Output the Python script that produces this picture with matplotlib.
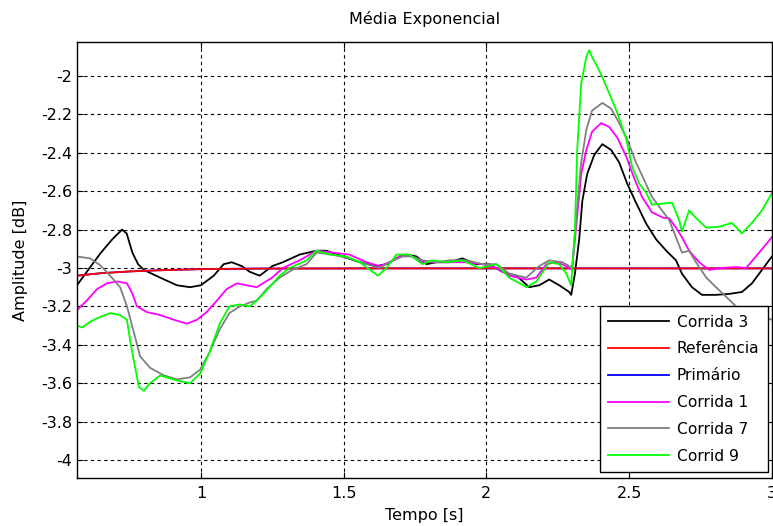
import numpy as np
import matplotlib
matplotlib.use("Agg")
import matplotlib.pyplot as plt

plt.rcParams['font.family'] = ['DejaVu Sans']

# Corrida 3 (black)
c3_t = [0.566, 0.61, 0.65, 0.69, 0.724, 0.74, 0.76, 0.78, 0.80, 0.857, 0.916, 0.962, 1.0, 1.045,
        1.08, 1.108, 1.143, 1.171, 1.206, 1.25, 1.287, 1.346, 1.405, 1.44, 1.497, 1.556, 1.615,
        1.65, 1.685, 1.72, 1.755, 1.79, 1.825, 1.87, 1.916, 1.965, 2.01, 2.056, 2.105, 2.15,
        2.185, 2.22, 2.255, 2.29, 2.297, 2.31, 2.325, 2.336, 2.353, 2.378, 2.406, 2.437, 2.465,
        2.493, 2.524, 2.56, 2.594, 2.63, 2.664, 2.685, 2.72, 2.755, 2.804, 2.85, 2.895, 2.93,
        2.965, 3.0]
c3_a = [-3.09, -3.0, -2.92, -2.85, -2.80, -2.82, -2.92, -2.98, -3.01, -3.05, -3.09, -3.10, -3.09, -3.04,
        -2.98, -2.97, -2.99, -3.02, -3.04, -2.99, -2.97, -2.93, -2.91, -2.91, -2.94, -2.97, -2.99,
        -2.98, -2.95, -2.93, -2.94, -2.98, -2.97, -2.97, -2.95, -2.98, -2.98, -3.02, -3.04, -3.10,
        -3.09, -3.06, -3.09, -3.125, -3.14, -3.03, -2.85, -2.65, -2.51, -2.41, -2.355, -2.385, -2.45,
        -2.56, -2.66, -2.77, -2.85, -2.91, -2.96, -3.03, -3.10, -3.14, -3.14, -3.135, -3.125, -3.08,
        -3.01, -2.94]

# Referência (red) and Primário (blue, hidden under the reference)
ref_t = [0.566, 0.65, 0.75, 0.85, 1.0, 1.2, 1.6, 2.0, 2.5, 3.0]
ref_a = [-3.04, -3.027, -3.018, -3.012, -3.006, -3.003, -3.002, -3.002, -3.002, -3.002]
pri_t = ref_t
pri_a = ref_a

# Corrida 1 (magenta)
c1_t = [0.566, 0.60, 0.636, 0.671, 0.706, 0.741, 0.759, 0.776, 0.811, 0.857, 0.906, 0.951, 0.986,
        1.02, 1.056, 1.09, 1.126, 1.16, 1.196, 1.217, 1.25, 1.287, 1.346, 1.405, 1.46, 1.52, 1.58,
        1.626, 1.66, 1.706, 1.74, 1.776, 1.825, 1.87, 1.93, 1.986, 2.035, 2.08, 2.14, 2.175, 2.21,
        2.245, 2.28, 2.30, 2.318, 2.332, 2.35, 2.37, 2.402, 2.43, 2.458, 2.49, 2.517, 2.545, 2.58,
        2.622, 2.64, 2.664, 2.685, 2.71, 2.745, 2.78, 2.825, 2.874, 2.91, 2.955, 3.0]
c1_a = [-3.22, -3.17, -3.11, -3.08, -3.07, -3.08, -3.13, -3.20, -3.23, -3.245, -3.27, -3.29, -3.27,
        -3.23, -3.17, -3.11, -3.08, -3.09, -3.10, -3.08, -3.05, -3.0, -2.96, -2.91, -2.92, -2.93, -2.97,
        -2.99, -2.97, -2.93, -2.94, -2.97, -2.97, -2.97, -2.97, -2.98, -3.0, -3.04, -3.06, -3.05, -2.98,
        -2.97, -2.99, -3.01, -2.73, -2.51, -2.385, -2.29, -2.245, -2.265, -2.32, -2.42, -2.53, -2.63, -2.71,
        -2.74, -2.74, -2.79, -2.84, -2.91, -2.97, -3.01, -3.0, -2.995, -3.0, -2.92, -2.84]

# Corrida 7 (gray)
c7_t = [0.566, 0.612, 0.647, 0.682, 0.717, 0.741, 0.766, 0.787, 0.822, 0.871, 0.916, 0.962, 0.997,
        1.03, 1.066, 1.10, 1.136, 1.171, 1.196, 1.23, 1.276, 1.32, 1.37, 1.405, 1.46, 1.52, 1.58,
        1.626, 1.66, 1.706, 1.74, 1.776, 1.825, 1.87, 1.93, 1.986, 2.035, 2.08, 2.14, 2.185, 2.22,
        2.266, 2.29, 2.30, 2.318, 2.332, 2.35, 2.37, 2.406, 2.437, 2.465, 2.493, 2.524, 2.552, 2.58,
        2.615, 2.64, 2.664, 2.685, 2.71, 2.734, 2.77, 2.804, 2.84, 2.874, 2.93, 3.0]
c7_a = [-2.94, -2.95, -2.985, -3.04, -3.10, -3.20, -3.34, -3.46, -3.52, -3.56, -3.58, -3.57, -3.53,
        -3.44, -3.32, -3.235, -3.20, -3.18, -3.17, -3.11, -3.05, -3.01, -2.98, -2.92, -2.93, -2.95, -2.98,
        -3.0, -2.97, -2.94, -2.94, -2.96, -2.97, -2.96, -2.96, -2.98, -2.98, -3.03, -3.05, -2.99, -2.96,
        -2.97, -2.99, -3.0, -2.68, -2.45, -2.28, -2.18, -2.14, -2.17, -2.245, -2.33, -2.45, -2.54, -2.63,
        -2.70, -2.75, -2.84, -2.92, -2.91, -2.97, -3.05, -3.10, -3.15, -3.20, -3.23, -3.27]

# Corrid 9 (green)
c9_t = [0.566, 0.584, 0.612, 0.647, 0.682, 0.717, 0.741, 0.752, 0.766, 0.783, 0.80, 0.822, 0.857,
        0.892, 0.927, 0.962, 0.997, 1.03, 1.066, 1.10, 1.136, 1.171, 1.196, 1.24, 1.276, 1.31, 1.37,
        1.405, 1.45, 1.51, 1.556, 1.62, 1.65, 1.685, 1.73, 1.776, 1.81, 1.86, 1.916, 1.975, 2.035,
        2.08, 2.14, 2.175, 2.22, 2.255, 2.28, 2.297, 2.31, 2.318, 2.332, 2.35, 2.36, 2.37, 2.388,
        2.406, 2.43, 2.458, 2.49, 2.51, 2.535, 2.56, 2.58, 2.65, 2.675, 2.685, 2.71, 2.734, 2.77,
        2.815, 2.86, 2.895, 2.93, 2.965, 3.0]
c9_a = [-3.30, -3.31, -3.28, -3.255, -3.235, -3.245, -3.27, -3.375, -3.49, -3.62, -3.64, -3.60, -3.56,
        -3.575, -3.59, -3.60, -3.55, -3.44, -3.29, -3.20, -3.19, -3.20, -3.17, -3.10, -3.04, -3.0, -2.96,
        -2.91, -2.93, -2.94, -2.97, -3.04, -3.0, -2.93, -2.93, -2.98, -2.96, -2.97, -2.96, -3.0, -2.98,
        -3.05, -3.10, -3.07, -2.97, -2.98, -3.03, -3.09, -2.80, -2.385, -2.04, -1.90, -1.865, -1.90, -1.95,
        -2.005, -2.09, -2.19, -2.33, -2.47, -2.56, -2.61, -2.67, -2.66, -2.75, -2.81, -2.70, -2.74, -2.79,
        -2.785, -2.765, -2.82, -2.765, -2.70, -2.61]

fig = plt.figure(figsize=(7.73, 5.26), dpi=100)
ax = fig.add_axes([0.0996, 0.0913, 0.899, 0.8287])

lw = 1.3
ax.plot(c3_t, c3_a, color='black', lw=lw, label='Corrida 3')
ax.plot(pri_t, pri_a, color='blue', lw=lw, label='_nolegend_')
ax.plot(ref_t, ref_a, color='red', lw=lw, label='Referência')
ax.plot([], [], color='blue', lw=lw, label='Primário')
ax.plot(c1_t, c1_a, color='magenta', lw=lw, label='Corrida 1')
ax.plot(c7_t, c7_a, color='#808080', lw=lw, label='Corrida 7')
ax.plot(c9_t, c9_a, color='#00ff00', lw=lw, label='Corrid 9')

ax.set_xlim(0.566, 3.0)
ax.set_ylim(-4.094, -1.823)
ax.set_xticks([1, 1.5, 2, 2.5, 3])
ax.set_xticklabels(['1', '1.5', '2', '2.5', '3'])
ax.set_yticks(np.arange(-4, -1.9, 0.2))
ax.set_yticklabels(['-4', '-3.8', '-3.6', '-3.4', '-3.2', '-3', '-2.8', '-2.6', '-2.4', '-2.2', '-2'])
ax.tick_params(direction='in', top=True, right=True, labelsize=11.5, length=4, colors='black')
ax.tick_params(axis='x', pad=6)
for s in ax.spines.values():
    s.set_linewidth(1.0)
ax.grid(True, color='black', linestyle=(0, (3, 3)), linewidth=0.8)

ax.set_title('Média Exponencial', fontsize=11.5, pad=13)
ax.set_xlabel('Tempo [s]', fontsize=11.5, labelpad=5)
ax.set_ylabel('Amplitude [dB]', fontsize=11.5, labelpad=9)

leg = ax.legend(loc='lower right', bbox_to_anchor=(0.994, 0.013), borderaxespad=0,
                fontsize=11.2, handlelength=3.9, handletextpad=0.5, borderpad=0.55,
                labelspacing=0.76, fancybox=False, framealpha=1, edgecolor='black')
leg.get_frame().set_linewidth(1.0)

fig.savefig('out.png', dpi=100)
